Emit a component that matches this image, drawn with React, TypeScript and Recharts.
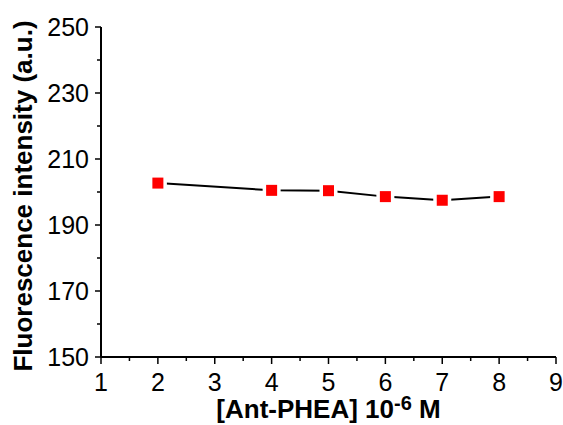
import React from 'react';
import { LineChart, Line, XAxis, YAxis, Label } from 'recharts';

// [Ant-PHEA] concentration (10^-6 M) vs fluorescence intensity
const concentrations = [2, 4, 5, 6, 7, 8];
const intensities = [202.7, 200.5, 200.4, 198.6, 197.5, 198.6];

const xTicks = [1, 1.5, 2, 2.5, 3, 3.5, 4, 4.5, 5, 5.5, 6, 6.5, 7, 7.5, 8, 8.5, 9];
const yTicks = [150, 160, 170, 180, 190, 200, 210, 220, 230, 240, 250];

const FONT = '"Liberation Sans", Arial, sans-serif';

const data = concentrations.map((c, i) => ({ c, v: intensities[i] }));

const XTick = (props: any) => {
    const { x, y, payload } = props;
    const major = Number.isInteger(payload.value);
    return (
        <g>
            <line x1={x} x2={x} y1={y} y2={y + (major ? 7 : 4)} stroke="#000" strokeWidth={1.5} />
            {major && (
                <text x={x} y={y + 34} textAnchor="middle" fontSize={25} fontFamily={FONT} fill="#000">
                    {payload.value}
                </text>
            )}
        </g>
    );
};

const YTick = (props: any) => {
    const { x, y, payload } = props;
    const major = (payload.value - 150) % 20 === 0;
    return (
        <g>
            <line x1={x - (major ? 6 : 4)} x2={x} y1={y} y2={y} stroke="#000" strokeWidth={1.5} />
            {major && (
                <text x={x - 12} y={y + 9} textAnchor="end" fontSize={25} fontFamily={FONT} fill="#000">
                    {payload.value}
                </text>
            )}
        </g>
    );
};

const SquareDot = (props: any) => {
    const { cx, cy, index } = props;
    return (
        <g key={index}>
            <rect x={cx - 9} y={cy - 9} width={18} height={18} fill="#fff" />
            <rect x={cx - 5.5} y={cy - 5.5} width={11} height={11} fill="#ff0000" />
        </g>
    );
};

export default function App() {
    return (
        <div style={{ position: 'absolute', left: 0, top: 0, background: '#fff' }}>
            <LineChart
                width={563}
                height={425}
                data={data}
                margin={{ top: 27, right: 7, bottom: 67, left: 100 }}
            >
                <XAxis
                    dataKey="c"
                    type="number"
                    domain={[1, 9]}
                    ticks={xTicks}
                    interval={0}
                    height={1}
                    tickSize={0}
                    tickMargin={0}
                    tickLine={false}
                    tick={<XTick />}
                    axisLine={{ stroke: '#000', strokeWidth: 2 }}
                >
                    <Label
                        content={(p: any) => {
                            const vb = p.viewBox;
                            return (
                                <text
                                    x={vb.x + vb.width / 2}
                                    y={vb.y + 61}
                                    textAnchor="middle"
                                    fontSize={26}
                                    fontWeight="bold"
                                    fontFamily={FONT}
                                    fill="#000"
                                >
                                    <tspan>[Ant-PHEA] 10</tspan>
                                    <tspan fontSize={20} dy={-8}>-6</tspan>
                                    <tspan dy={8}> M</tspan>
                                </text>
                            );
                        }}
                    />
                </XAxis>
                <YAxis
                    type="number"
                    domain={[150, 250]}
                    ticks={yTicks}
                    interval={0}
                    width={1}
                    tickSize={0}
                    tickMargin={0}
                    tickLine={false}
                    tick={<YTick />}
                    axisLine={{ stroke: '#000', strokeWidth: 2 }}
                >
                    <Label
                        content={(p: any) => {
                            const vb = p.viewBox;
                            const cy = vb.y + vb.height / 2 + 4;
                            return (
                                <text
                                    x={32}
                                    y={cy}
                                    textAnchor="middle"
                                    fontSize={26}
                                    fontWeight="bold"
                                    fontFamily={FONT}
                                    fill="#000"
                                    transform={`rotate(-90, 32, ${cy})`}
                                >
                                    Fluorescence intensity (a.u.)
                                </text>
                            );
                        }}
                    />
                </YAxis>
                <Line
                    dataKey="v"
                    type="linear"
                    stroke="#000"
                    strokeWidth={2}
                    dot={<SquareDot />}
                    activeDot={false}
                    isAnimationActive={false}
                />
            </LineChart>
        </div>
    );
}
